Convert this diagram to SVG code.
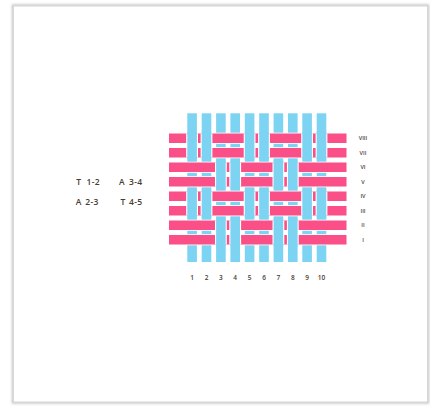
<svg xmlns="http://www.w3.org/2000/svg" width="430" height="408" viewBox="0 0 430 408">
<style>
.warp{fill:#7dd3f2}
.weft{fill:#fb4f88}
.gap{fill:#ffffff}
.lbl{font-family:"Open Sans","Liberation Sans",sans-serif;fill:#4a3c34;font-weight:600}
.num{font-size:6.5px;text-anchor:middle}
.rom{font-size:5.5px;text-anchor:middle}
.code{font-size:8.5px;letter-spacing:0.3px}
</style>
<defs>
<filter id="sh" x="-5%" y="-5%" width="110%" height="110%"><feGaussianBlur stdDeviation="1"/></filter>
</defs>
<rect width="430" height="408" fill="#ffffff"/>
<g id="frame">
<rect x="13" y="5.5" width="415" height="397" fill="none" stroke="#c8c8c8" stroke-width="2.5" filter="url(#sh)"/>
<rect x="13.5" y="6" width="414" height="396" fill="#ffffff" stroke="#d6d6d6" stroke-width="1"/>
</g>
<g id="warps">
<rect class="warp" x="187.3" y="113.3" width="9.6" height="148.7"/>
<rect class="warp" x="201.7" y="113.3" width="9.6" height="148.7"/>
<rect class="warp" x="216.1" y="113.3" width="9.6" height="148.7"/>
<rect class="warp" x="230.4" y="113.3" width="9.6" height="148.7"/>
<rect class="warp" x="244.8" y="113.3" width="9.6" height="148.7"/>
<rect class="warp" x="259.2" y="113.3" width="9.6" height="148.7"/>
<rect class="warp" x="273.6" y="113.3" width="9.6" height="148.7"/>
<rect class="warp" x="288.0" y="113.3" width="9.6" height="148.7"/>
<rect class="warp" x="302.3" y="113.3" width="9.6" height="148.7"/>
<rect class="warp" x="316.7" y="113.3" width="9.6" height="148.7"/>
</g>
<g id="wefts">
<rect class="gap" x="168" y="132.7" width="179.5" height="11.1"/><rect class="weft" x="169" y="133.5" width="177.5" height="9.5"/>
<rect class="gap" x="168" y="147.2" width="179.5" height="11.1"/><rect class="weft" x="169" y="148" width="177.5" height="9.5"/>
<rect class="gap" x="168" y="161.7" width="179.5" height="11.1"/><rect class="weft" x="169" y="162.5" width="177.5" height="9.5"/>
<rect class="gap" x="168" y="176.2" width="179.5" height="11.1"/><rect class="weft" x="169" y="177" width="177.5" height="9.5"/>
<rect class="gap" x="168" y="190.7" width="179.5" height="11.1"/><rect class="weft" x="169" y="191.5" width="177.5" height="9.5"/>
<rect class="gap" x="168" y="205.2" width="179.5" height="11.1"/><rect class="weft" x="169" y="206" width="177.5" height="9.5"/>
<rect class="gap" x="168" y="219.7" width="179.5" height="11.1"/><rect class="weft" x="169" y="220.5" width="177.5" height="9.5"/>
<rect class="gap" x="168" y="234.2" width="179.5" height="11.1"/><rect class="weft" x="169" y="235" width="177.5" height="9.5"/>
</g>
<g id="crossings-a">
<rect class="gap" x="186.2" y="133.5" width="11.8" height="24"/><rect class="warp" x="187.3" y="131.5" width="9.6" height="28"/>
<rect class="gap" x="200.6" y="133.5" width="11.8" height="24"/><rect class="warp" x="201.7" y="131.5" width="9.6" height="28"/>
<rect class="gap" x="243.7" y="133.5" width="11.8" height="24"/><rect class="warp" x="244.8" y="131.5" width="9.6" height="28"/>
<rect class="gap" x="258.1" y="133.5" width="11.8" height="24"/><rect class="warp" x="259.2" y="131.5" width="9.6" height="28"/>
<rect class="gap" x="301.2" y="133.5" width="11.8" height="24"/><rect class="warp" x="302.3" y="131.5" width="9.6" height="28"/>
<rect class="gap" x="315.6" y="133.5" width="11.8" height="24"/><rect class="warp" x="316.7" y="131.5" width="9.6" height="28"/>
<rect class="gap" x="186.2" y="191.5" width="11.8" height="24"/><rect class="warp" x="187.3" y="189.5" width="9.6" height="28"/>
<rect class="gap" x="200.6" y="191.5" width="11.8" height="24"/><rect class="warp" x="201.7" y="189.5" width="9.6" height="28"/>
<rect class="gap" x="243.7" y="191.5" width="11.8" height="24"/><rect class="warp" x="244.8" y="189.5" width="9.6" height="28"/>
<rect class="gap" x="258.1" y="191.5" width="11.8" height="24"/><rect class="warp" x="259.2" y="189.5" width="9.6" height="28"/>
<rect class="gap" x="301.2" y="191.5" width="11.8" height="24"/><rect class="warp" x="302.3" y="189.5" width="9.6" height="28"/>
<rect class="gap" x="315.6" y="191.5" width="11.8" height="24"/><rect class="warp" x="316.7" y="189.5" width="9.6" height="28"/>
</g>
<g id="crossings-b">
<rect class="gap" x="215" y="162.5" width="11.8" height="24"/><rect class="warp" x="216.1" y="160.5" width="9.6" height="28"/>
<rect class="gap" x="229.3" y="162.5" width="11.8" height="24"/><rect class="warp" x="230.4" y="160.5" width="9.6" height="28"/>
<rect class="gap" x="272.5" y="162.5" width="11.8" height="24"/><rect class="warp" x="273.6" y="160.5" width="9.6" height="28"/>
<rect class="gap" x="286.9" y="162.5" width="11.8" height="24"/><rect class="warp" x="288.0" y="160.5" width="9.6" height="28"/>
<rect class="gap" x="215" y="220.5" width="11.8" height="24"/><rect class="warp" x="216.1" y="218.5" width="9.6" height="28"/>
<rect class="gap" x="229.3" y="220.5" width="11.8" height="24"/><rect class="warp" x="230.4" y="218.5" width="9.6" height="28"/>
<rect class="gap" x="272.5" y="220.5" width="11.8" height="24"/><rect class="warp" x="273.6" y="218.5" width="9.6" height="28"/>
<rect class="gap" x="286.9" y="220.5" width="11.8" height="24"/><rect class="warp" x="288.0" y="218.5" width="9.6" height="28"/>
</g>
<g id="warp-numbers" class="lbl num">
<text x="192.1" y="279.5">1</text>
<text x="206.5" y="279.5">2</text>
<text x="220.9" y="279.5">3</text>
<text x="235.2" y="279.5">4</text>
<text x="249.6" y="279.5">5</text>
<text x="264.0" y="279.5">6</text>
<text x="278.4" y="279.5">7</text>
<text x="292.8" y="279.5">8</text>
<text x="307.1" y="279.5">9</text>
<text x="321.5" y="279.5">10</text>
</g>
<g id="weft-numerals" class="lbl rom">
<text x="363" y="140.2">VIII</text>
<text x="363" y="154.7">VII</text>
<text x="363" y="169.2">VI</text>
<text x="363" y="183.7">V</text>
<text x="363" y="198.2">IV</text>
<text x="363" y="212.7">III</text>
<text x="363" y="227.2">II</text>
<text x="363" y="241.7">I</text>
</g>
<g id="legend" class="lbl code">
<text y="184.8"><tspan x="76.3">T</tspan><tspan x="86.5">1-2</tspan><tspan x="119">A</tspan><tspan x="129">3-4</tspan></text>
<text y="205"><tspan x="75.8">A</tspan><tspan x="85.3">2-3</tspan><tspan x="120.6">T</tspan><tspan x="129">4-5</tspan></text>
</g>
</svg>
